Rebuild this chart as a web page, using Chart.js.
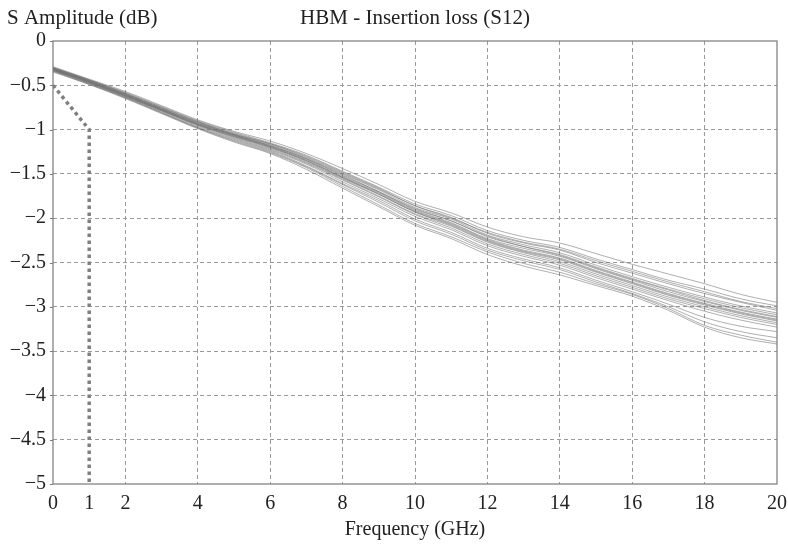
<!DOCTYPE html>
<html>
<head>
<meta charset="utf-8">
<script src="https://cdn.jsdelivr.net/npm/chart.js@4"></script>
<style>
  html, body { margin: 0; padding: 0; background: #fff; }
  #wrap { width: 788px; height: 545px; position: relative; }
</style>
</head>
<body>
<div id="wrap"><canvas id="graph"></canvas></div>
<script>
// frekvenser (GHz) for hver måling
const freq = [0, 1, 2, 3, 4, 5, 6, 7, 8, 9, 10, 11, 12, 13, 14, 15, 16, 17, 18, 19, 20];

// innsettingstap (dB) for hver kanal, lest av figuren
const s1  = [-0.29,-0.43,-0.57,-0.73,-0.89,-1.02,-1.13,-1.27,-1.44,-1.62,-1.81,-1.94,-2.10,-2.21,-2.28,-2.40,-2.52,-2.63,-2.74,-2.86,-2.95];
const s2  = [-0.30,-0.44,-0.58,-0.74,-0.90,-1.03,-1.15,-1.29,-1.47,-1.65,-1.84,-1.97,-2.14,-2.25,-2.33,-2.46,-2.58,-2.70,-2.80,-2.91,-2.99];
const s3  = [-0.30,-0.44,-0.59,-0.75,-0.91,-1.04,-1.16,-1.31,-1.49,-1.67,-1.86,-1.99,-2.17,-2.28,-2.36,-2.50,-2.62,-2.74,-2.85,-2.95,-3.04];
const s4  = [-0.31,-0.45,-0.60,-0.76,-0.92,-1.05,-1.17,-1.32,-1.50,-1.68,-1.88,-2.01,-2.19,-2.30,-2.39,-2.53,-2.66,-2.78,-2.89,-2.99,-3.07];
const s5  = [-0.31,-0.45,-0.60,-0.76,-0.93,-1.06,-1.18,-1.33,-1.52,-1.70,-1.90,-2.03,-2.21,-2.32,-2.41,-2.55,-2.68,-2.80,-2.91,-3.01,-3.09];
const s6  = [-0.31,-0.46,-0.61,-0.77,-0.93,-1.06,-1.19,-1.34,-1.53,-1.71,-1.91,-2.05,-2.23,-2.34,-2.43,-2.57,-2.70,-2.83,-2.94,-3.04,-3.12];
const s7  = [-0.32,-0.46,-0.61,-0.77,-0.94,-1.07,-1.19,-1.35,-1.54,-1.72,-1.92,-2.06,-2.24,-2.36,-2.45,-2.59,-2.72,-2.85,-2.96,-3.06,-3.14];
const s8  = [-0.32,-0.46,-0.62,-0.78,-0.94,-1.08,-1.20,-1.36,-1.55,-1.73,-1.93,-2.08,-2.26,-2.38,-2.47,-2.61,-2.74,-2.87,-2.98,-3.08,-3.16];
const s9  = [-0.32,-0.47,-0.62,-0.78,-0.95,-1.08,-1.21,-1.37,-1.56,-1.75,-1.95,-2.09,-2.27,-2.39,-2.49,-2.63,-2.76,-2.89,-3.00,-3.10,-3.18];
const s10 = [-0.33,-0.47,-0.62,-0.79,-0.95,-1.09,-1.22,-1.38,-1.57,-1.76,-1.96,-2.11,-2.29,-2.41,-2.51,-2.65,-2.78,-2.91,-3.02,-3.12,-3.20];
const s11 = [-0.33,-0.47,-0.63,-0.79,-0.96,-1.10,-1.23,-1.39,-1.59,-1.78,-1.98,-2.13,-2.31,-2.43,-2.53,-2.67,-2.80,-2.93,-3.05,-3.15,-3.23];
const s12 = [-0.33,-0.48,-0.63,-0.80,-0.97,-1.11,-1.24,-1.41,-1.61,-1.80,-2.01,-2.16,-2.34,-2.46,-2.56,-2.70,-2.83,-2.97,-3.12,-3.22,-3.28];
const s13 = [-0.34,-0.48,-0.64,-0.81,-0.98,-1.12,-1.25,-1.42,-1.62,-1.82,-2.03,-2.18,-2.36,-2.48,-2.58,-2.72,-2.85,-3.00,-3.17,-3.28,-3.35];
const s14 = [-0.34,-0.49,-0.64,-0.81,-0.98,-1.13,-1.26,-1.43,-1.64,-1.85,-2.06,-2.21,-2.38,-2.51,-2.61,-2.74,-2.86,-3.02,-3.21,-3.32,-3.40];
const s15 = [-0.35,-0.49,-0.65,-0.82,-0.99,-1.14,-1.27,-1.45,-1.66,-1.87,-2.08,-2.23,-2.41,-2.54,-2.64,-2.76,-2.88,-3.04,-3.23,-3.35,-3.42];
const s16 = [-0.30,-0.44,-0.59,-0.75,-0.91,-1.05,-1.16,-1.30,-1.48,-1.66,-1.86,-2.00,-2.16,-2.27,-2.35,-2.48,-2.60,-2.72,-2.83,-2.94,-3.02];
const s17 = [-0.31,-0.45,-0.60,-0.77,-0.92,-1.06,-1.18,-1.33,-1.51,-1.70,-1.89,-2.03,-2.20,-2.32,-2.42,-2.56,-2.69,-2.81,-2.93,-3.03,-3.11];
const s18 = [-0.32,-0.46,-0.61,-0.78,-0.94,-1.07,-1.20,-1.35,-1.54,-1.73,-1.93,-2.07,-2.25,-2.37,-2.46,-2.60,-2.73,-2.86,-2.97,-3.07,-3.15];
const allSeries = [s1, s2, s3, s4, s5, s6, s7, s8, s9, s10, s11, s12, s13, s14, s15, s16, s17, s18];

// grensemaske (stiplet linje)
const maskX = [0, 1, 1];
const maskY = [-0.5, -1, -5];

// akse-ticks
const xTicks = [0, 1, 2, 4, 6, 8, 10, 12, 14, 16, 18, 20];

const serif = "'Liberation Serif', 'DejaVu Serif', serif";

const datasets = allSeries.map(function(s) {
    return {
        data: s.map((v, i) => ({ x: freq[i], y: v })),
        borderColor: 'rgba(110, 110, 110, 0.55)',
        borderWidth: 1,
        pointRadius: 0,
        tension: 0.35,
        fill: false
    };
});

datasets.push({
    data: maskX.map((v, i) => ({ x: v, y: maskY[i] })),
    borderColor: '#7f7f7f',
    borderWidth: 3.5,
    borderDash: [3.5, 3.5],
    pointRadius: 0,
    tension: 0,
    fill: false
});

// tegner tekstene, tick-merker og rammen rundt plottet
const extras = {
    id: 'extras',
    afterDraw(chart) {
        const c = chart.ctx;
        const a = chart.chartArea;
        const y = chart.scales.y;
        c.save();
        c.strokeStyle = '#7a7a7a';
        c.lineWidth = 1.2;
        c.strokeRect(a.left, a.top, a.right - a.left, a.bottom - a.top);
        // små tick-merker på y-aksen
        c.beginPath();
        for (const t of y.ticks) {
            const py = Math.round(y.getPixelForValue(t.value)) + 0.5;
            c.moveTo(a.left - 3, py);
            c.lineTo(a.left, py);
        }
        c.stroke();
        c.fillStyle = '#222';
        c.font = '21px ' + serif;
        c.textBaseline = 'middle';
        c.textAlign = 'left';
        c.fillText('S Amplitude (dB)', 7, 18);
        c.textAlign = 'center';
        c.fillText('HBM - Insertion loss (S12)', (a.left + a.right) / 2, 18);
        c.restore();
    }
};

const chart = new Chart(document.getElementById('graph'), {
    type: 'line',
    data: { datasets: datasets },
    options: {
        responsive: true,
        maintainAspectRatio: false,
        animation: false,
        layout: { padding: { top: 41, right: 0, left: 0, bottom: 0 } },
        plugins: { legend: { display: false }, tooltip: { enabled: false } },
        scales: {
            x: {
                type: 'linear',
                min: 0,
                max: 20,
                afterBuildTicks: function(scale) {
                    scale.ticks = xTicks.map(v => ({ value: v }));
                },
                afterFit: function(scale) {
                    scale.height = 61;
                    scale.paddingLeft = 0;
                    scale.paddingRight = 11;
                },
                grid: {
                    color: ctx => (ctx.tick && (ctx.tick.value === 1 || ctx.tick.value === 0 || ctx.tick.value === 20)) ? 'rgba(0,0,0,0)' : '#9a9a9a',
                    lineWidth: 1,
                    drawTicks: false
                },
                border: { display: false, dash: [4, 3] },
                ticks: {
                    autoSkip: false,
                    maxRotation: 0,
                    padding: 8,
                    color: '#222',
                    font: { family: serif, size: 20 },
                    callback: v => String(v)
                },
                title: {
                    display: true,
                    text: 'Frequency (GHz)',
                    color: '#222',
                    font: { family: serif, size: 20 },
                    padding: { top: 0, bottom: 3 }
                }
            },
            y: {
                min: -5,
                max: 0,
                afterFit: function(scale) { scale.width = 53; },
                grid: {
                    color: ctx => (ctx.tick && (ctx.tick.value === 0 || ctx.tick.value === -5)) ? 'rgba(0,0,0,0)' : '#9a9a9a',
                    lineWidth: 1,
                    drawTicks: false
                },
                border: { display: false, dash: [4, 3] },
                ticks: {
                    stepSize: 0.5,
                    padding: 7,
                    color: '#222',
                    font: { family: serif, size: 20 },
                    callback: v => (v < 0 ? '\u2212' + String(Math.abs(v)) : String(v))
                }
            }
        }
    },
    plugins: [extras]
});
</script>
</body>
</html>
